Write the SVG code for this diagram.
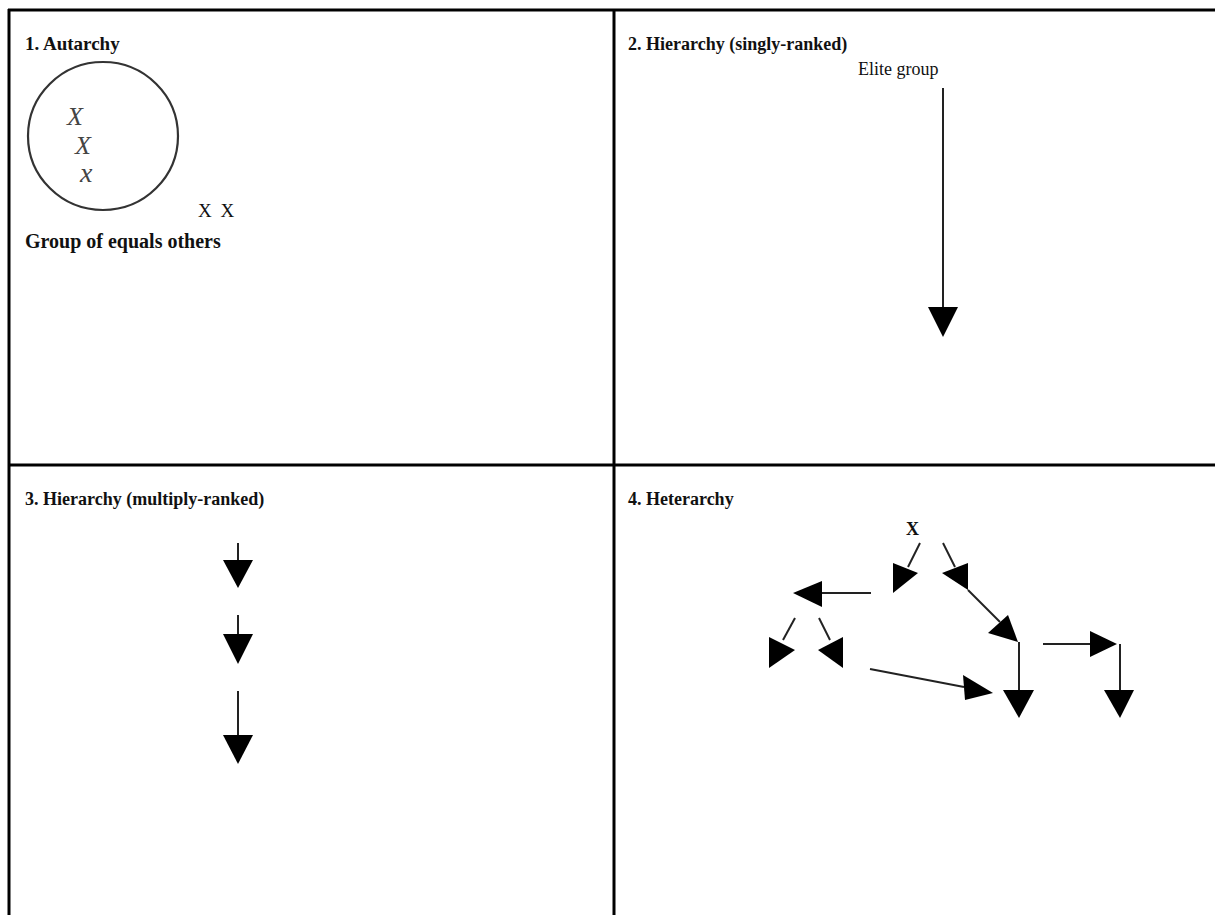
<svg xmlns="http://www.w3.org/2000/svg" width="1215" height="915" viewBox="0 0 1215 915">
<style>
.t{font-family:"Liberation Serif","DejaVu Serif",serif;font-size:18px;fill:#111}
.b{font-weight:bold}
.gx{font-family:"Liberation Serif","DejaVu Serif",serif;font-style:italic;fill:#444}
.ln{stroke:#222;stroke-width:2;fill:none}
.hd{fill:#000}
.grid{stroke:#000;stroke-width:3;fill:none}
</style>
<rect width="1215" height="915" fill="#fff"/>
<g id="grid">
<line class="grid" x1="8" y1="10" x2="1215" y2="10"/>
<line class="grid" x1="9" y1="9" x2="9" y2="915"/>
<line class="grid" x1="614" y1="9" x2="614" y2="915"/>
<line class="grid" x1="8" y1="465" x2="1215" y2="465"/>
</g>
<g id="q1">
<text class="t b" x="25" y="50" style="font-size:19px">1. Autarchy</text>
<g id="group-circle">
<ellipse cx="103" cy="136" rx="75" ry="74" fill="none" stroke="#333" stroke-width="2.2"/>
<text class="gx" x="67" y="125" font-size="26">X</text>
<text class="gx" x="75" y="154" font-size="26">X</text>
<text class="gx" x="80" y="182" font-size="28">x</text>
</g>
<text class="t" x="198" y="217" style="font-size:19px;letter-spacing:2px">X X</text>
<text class="t b" x="25" y="248" style="font-size:20px">Group of equals others</text>
</g>
<g id="q2">
<text class="t b" x="628" y="50">2. Hierarchy (singly-ranked)</text>
<text class="t" x="858" y="75">Elite group</text>
</g>
<g id="q3">
<text class="t b" x="25" y="505">3. Hierarchy (multiply-ranked)</text>
</g>
<g id="q4">
<text class="t b" x="628" y="505">4. Heterarchy</text>
<text class="t b" x="906" y="535">X</text>
</g>
<g id="connectors">
<line class="ln" x1="943" y1="88" x2="943" y2="308"/>
<polygon class="hd" points="928,307 958,307 943,337"/>
<line class="ln" x1="238" y1="543" x2="238" y2="561"/>
<polygon class="hd" points="223,560 253,560 238,588"/>
<line class="ln" x1="238" y1="615" x2="238" y2="635"/>
<polygon class="hd" points="223,634 253,634 238,664"/>
<line class="ln" x1="238" y1="691" x2="238" y2="736"/>
<polygon class="hd" points="223,735 253,735 238,764"/>
<line class="ln" x1="920" y1="543" x2="908" y2="567"/>
<polygon class="hd" points="893,563 918,573 893,593"/>
<line class="ln" x1="943" y1="543" x2="955" y2="567"/>
<polygon class="hd" points="942,573 968,563 968,590"/>
<line class="ln" x1="871" y1="593" x2="822" y2="593"/>
<polygon class="hd" points="822,581 822,607 793,593"/>
<line class="ln" x1="795" y1="618" x2="783" y2="640"/>
<polygon class="hd" points="769,637 795,650 769,668"/>
<line class="ln" x1="819" y1="618" x2="830" y2="640"/>
<polygon class="hd" points="818,650 843,637 843,668"/>
<line class="ln" x1="968" y1="590" x2="1000" y2="622"/>
<polygon class="hd" points="988,633 1008,615 1018,642"/>
<line class="ln" x1="1019" y1="642" x2="1019" y2="691"/>
<polygon class="hd" points="1003,690 1034,690 1019,718"/>
<line class="ln" x1="1043" y1="644" x2="1091" y2="644"/>
<polygon class="hd" points="1090,631 1090,657 1117,644"/>
<line class="ln" x1="1120" y1="644" x2="1120" y2="691"/>
<polygon class="hd" points="1104,690 1134,690 1120,718"/>
<line class="ln" x1="870" y1="669" x2="964" y2="687"/>
<polygon class="hd" points="963,675 965,700 993,693"/>
</g>
</svg>
